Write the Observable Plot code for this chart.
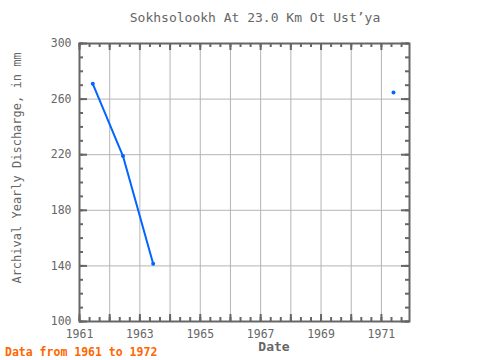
<!DOCTYPE html>
<html>
<head>
<meta charset="utf-8">
<script src="https://cdn.jsdelivr.net/npm/d3@7"></script>
<script src="https://cdn.jsdelivr.net/npm/@observablehq/plot@0.6"></script>
<style>
  html, body { margin: 0; padding: 0; background: #fff; }
  #wrap { position: relative; width: 480px; height: 360px; font-family: "DejaVu Sans Mono", monospace; }
  #wrap svg { position: absolute; left: 0; top: 0; }
  .lbl { position: absolute; white-space: nowrap; color: #666; }
  #title { left: 0; width: 510px; top: 10px; text-align: center; font-size: 13px; }
  #xlabel { left: 0; width: 548px; top: 339px; text-align: center; font-size: 13px; font-weight: bold; }
  #ylabel { left: 17px; top: 168px; font-size: 12px; transform: translate(-50%, -50%) rotate(-90deg); }
  #caption { left: 5px; top: 345px; font-size: 11.5px; font-weight: bold; color: #ff6600; }
</style>
</head>
<body>
<div id="wrap">
  <div id="title" class="lbl">Sokhsolookh At 23.0 Km Ot Ust’ya</div>
  <div id="ylabel" class="lbl">Archival Yearly Discharge, in mm</div>
  <div id="xlabel" class="lbl">Date</div>
  <div id="caption" class="lbl">Data from 1961 to 1972</div>
</div>
<script>
// Data
const dates = [1961.44, 1962.44, 1963.44, 1971.40];
const discharge = [271, 219, 141.5, 264.7];
const segment = ["a", "a", "a", "b"];

// Axis ticks
const xTickLabels = [1961, 1963, 1965, 1967, 1969, 1971];
const xMajor = [1961, 1962, 1963, 1964, 1965, 1966, 1967, 1968, 1969, 1970, 1971];
const xGrid = [1962, 1963, 1964, 1965, 1966, 1967, 1968, 1969, 1970, 1971];
const yTickLabels = [100, 140, 180, 220, 260, 300];
const yGrid = [140, 180, 220, 260];

const xMinor = d3.range(1961, 1972, 1 / 3);
const yMinor = d3.range(100, 301, 10);

const data = dates.map((d, i) => ({date: d, value: discharge[i], seg: segment[i]}));

const W = 480, H = 360;
const mL = 79, mR = 71, mT = 43, mB = 39;
const iw = W - mL - mR, ih = H - mT - mB;
const axisColor = "#666";
const gridColor = "#b4b4b4";
const blue = "#0066ff";

const chart = Plot.plot({
  width: W,
  height: H,
  marginLeft: mL,
  marginRight: mR,
  marginTop: mT,
  marginBottom: mB,
  style: {fontFamily: "DejaVu Sans Mono, monospace", fontSize: "11.5px", color: axisColor, background: "white"},
  x: {domain: [1961, 1971.93]},
  y: {domain: [100, 300]},
  marks: [
    Plot.ruleX(xGrid, {stroke: gridColor, strokeWidth: 1}),
    Plot.ruleY(yGrid, {stroke: gridColor, strokeWidth: 1}),
    // inward ticks, bottom & top
    Plot.ruleX(xMinor, {stroke: axisColor, strokeWidth: 2, insetTop: ih - 4}),
    Plot.ruleX(xMinor, {stroke: axisColor, strokeWidth: 2, insetBottom: ih - 4}),
    Plot.ruleX(xMajor, {stroke: axisColor, strokeWidth: 2, insetTop: ih - 7}),
    Plot.ruleX(xMajor, {stroke: axisColor, strokeWidth: 2, insetBottom: ih - 7}),
    // inward ticks, left & right
    Plot.ruleY(yMinor, {stroke: axisColor, strokeWidth: 2, insetRight: iw - 4}),
    Plot.ruleY(yMinor, {stroke: axisColor, strokeWidth: 2, insetLeft: iw - 4}),
    Plot.ruleY(yTickLabels, {stroke: axisColor, strokeWidth: 2, insetRight: iw - 8}),
    Plot.ruleY(yTickLabels, {stroke: axisColor, strokeWidth: 2, insetLeft: iw - 8}),
    Plot.axisX(xTickLabels, {tickSize: 0, tickPadding: 8, tickFormat: d => String(d), label: null, fill: axisColor}),
    Plot.axisY(yTickLabels, {tickSize: 0, tickPadding: 8, tickFormat: d => String(d), label: null, fill: axisColor}),
    Plot.frame({stroke: axisColor, strokeWidth: 2}),
    Plot.line(data, {x: "date", y: "value", z: "seg", stroke: blue, strokeWidth: 2}),
    Plot.dot(data, {x: "date", y: "value", r: 2, fill: blue, stroke: null})
  ]
});

document.getElementById("wrap").prepend(chart);
</script>
</body>
</html>
